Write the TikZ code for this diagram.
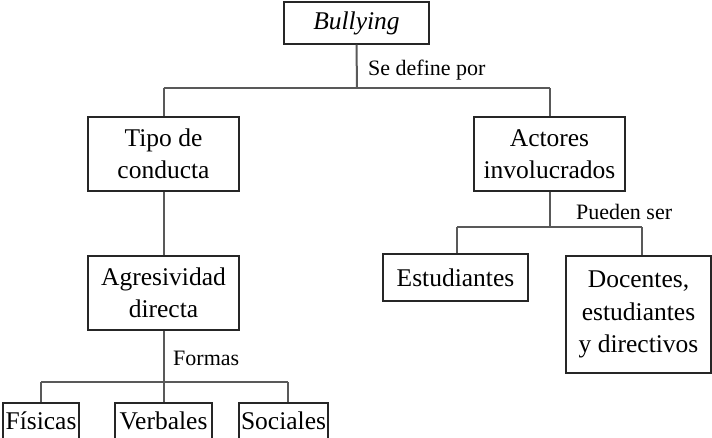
\documentclass[tikz,border=0pt]{standalone}
\usepackage{fontspec}
\setmainfont{Liberation Serif}
\begin{document}
\begin{tikzpicture}[x=1pt,y=-1pt,
  box/.style={draw=black!85,line width=1.4pt,rectangle,inner sep=0pt,align=center,
    font=\fontsize{25.5}{32.5}\selectfont},
  conn/.style={draw=black!65,line width=2pt},
  lbl/.style={font=\fontsize{22}{25}\selectfont,inner sep=0pt,anchor=west},
  btxt/.style={font=\fontsize{25.5}{32.5}\selectfont,inner sep=0pt}]
\useasboundingbox (0,0) rectangle (712,437);
\clip (0,0) rectangle (712,437);
\node[box,minimum width=145pt,minimum height=42pt] (bull) at (356.5,23) {\itshape Bullying};
\node[box,minimum width=151pt,minimum height=74pt] (tipo) at (163.5,154) {Tipo de\\conducta};
\node[box,minimum width=151pt,minimum height=74pt] (act) at (549.5,154) {Actores\\involucrados};
\node[box,minimum width=151pt,minimum height=74pt] (agre) at (163.5,293) {Agresividad\\directa};
\node[box,minimum width=145pt,minimum height=47pt] (est) at (455.5,277.5) {Estudiantes};
\node[box,minimum width=145pt,minimum height=117pt] (doc) at (638.5,314.5) {Docentes,\\estudiantes\\y directivos};
\node[box,minimum width=76pt,minimum height=44pt] (fis) at (41,425) {};
\node[box,minimum width=97pt,minimum height=44pt] (verb) at (163.5,425) {};
\node[box,minimum width=89pt,minimum height=44pt] (soc) at (283.5,425) {};
\node[btxt] (tfis) at (41,421) {Físicas};
\node[btxt] (tverb) at (163.5,421) {Verbales};
\node[btxt] (tsoc) at (283.5,421) {Sociales};
% junctions
\coordinate (j1) at (357,88);
\coordinate (j1l) at (163.5,88);
\coordinate (j1r) at (549.5,88);
\coordinate (j2) at (549.5,227);
\coordinate (j2l) at (457,227);
\coordinate (j2r) at (642,227);
\coordinate (j3) at (163.5,382);
\coordinate (j3l) at (41,382);
\coordinate (j3r) at (288,382);
\draw[conn] (bull.south) -- (j1);
\draw[conn] (j1l) -- (j1r);
\draw[conn] (j1l) -- (tipo.north);
\draw[conn] (j1r) -- (act.north);
\draw[conn] (tipo.south) -- (agre.north);
\draw[conn] (act.south) -- (j2);
\draw[conn] (j2l) -- (j2r);
\draw[conn] (j2l) -- (j2l |- est.north);
\draw[conn] (j2r) -- (j2r |- doc.north);
\draw[conn] (agre.south) -- (j3) -- (verb.north);
\draw[conn] (j3l) -- (j3r);
\draw[conn] (j3l) -- (fis.north);
\draw[conn] (j3r) -- (j3r |- soc.north);
\node[lbl] (l1) at (368,70) {Se define por};
\node[lbl] (l2) at (576,212) {Pueden ser};
\node[lbl] (l3) at (173,358) {Formas};
\end{tikzpicture}
\end{document}
